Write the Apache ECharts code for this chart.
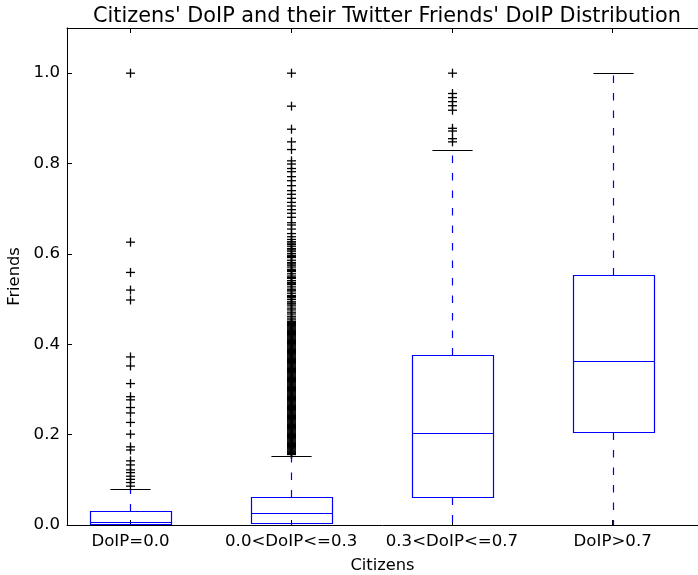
<!DOCTYPE html>
<html><head><meta charset="utf-8">
<script src="https://cdn.jsdelivr.net/npm/echarts@6/dist/echarts.min.js"></script>
<style>html,body{margin:0;padding:0;background:#fff}#c{width:698px;height:575px}</style>
</head><body><div id="c"></div>
<script>
const categories = ['DoIP=0.0', '0.0<DoIP<=0.3', '0.3<DoIP<=0.7', 'DoIP>0.7'];
const positions = [1, 2, 3, 4];
const yTicks = [0, 0.2, 0.4, 0.6, 0.8, 1.0];
// [lowWhisker, q1, median, q3, highWhisker]
const stats1 = [0, 0.002, 0.007, 0.032, 0.080];
const stats2 = [0, 0.004, 0.027, 0.063, 0.153];
const stats3 = [0, 0.063, 0.203, 0.376, 0.831];
const stats4 = [0, 0.205, 0.363, 0.553, 1.0];
// outliers
const fliers1 = [1.0, 0.626, 0.559, 0.520, 0.498, 0.372, 0.352, 0.313, 0.284, 0.277, 0.260, 0.248, 0.227,
  0.201, 0.173, 0.166, 0.142, 0.133, 0.122, 0.116, 0.108, 0.101, 0.094, 0.086];
const fliers2 = [1.0, 0.927, 0.876, 0.848, 0.831, 0.806, 0.799, 0.789, 0.782, 0.771, 0.762, 0.751, 0.740,
  0.732, 0.723, 0.714, 0.706, 0.698, 0.690, 0.681, 0.669, 0.664, 0.655, 0.645, 0.638,
  0.632, 0.627, 0.621, 0.617, 0.612, 0.606, 0.601, 0.597, 0.592, 0.586, 0.581, 0.575, 0.571, 0.566,
  0.561, 0.556, 0.551, 0.546, 0.541, 0.537, 0.532, 0.527, 0.522, 0.518, 0.513, 0.508, 0.503, 0.499,
  0.494, 0.489, 0.485, 0.480, 0.476, 0.471, 0.467, 0.462, 0.458, 0.454, 0.450, 0.446, 0.442, 0.438,
  0.434, 0.430, 0.426, 0.422, 0.418, 0.414, 0.410, 0.406, 0.402, 0.398, 0.394, 0.390, 0.386, 0.382,
  0.378, 0.374, 0.370, 0.366, 0.362, 0.358, 0.354, 0.350, 0.346, 0.342, 0.338, 0.334, 0.330, 0.326,
  0.322, 0.318, 0.314, 0.310, 0.306, 0.302, 0.298, 0.294, 0.290, 0.286, 0.282, 0.278, 0.274, 0.270,
  0.266, 0.262, 0.258, 0.254, 0.250, 0.246, 0.242, 0.238, 0.234, 0.230, 0.226, 0.222, 0.218, 0.214,
  0.210, 0.206, 0.202, 0.198, 0.194, 0.190, 0.186, 0.182, 0.178, 0.174, 0.170, 0.166, 0.162, 0.158,
  0.448, 0.444, 0.440, 0.436, 0.432, 0.428, 0.424, 0.420, 0.416, 0.412, 0.408, 0.404, 0.400, 0.396,
  0.392, 0.388, 0.384, 0.380, 0.376, 0.372, 0.368, 0.364, 0.360, 0.356, 0.352, 0.348, 0.344, 0.340,
  0.336, 0.332, 0.328, 0.324, 0.320, 0.316, 0.312, 0.308, 0.304, 0.300, 0.296, 0.292, 0.288, 0.284,
  0.280, 0.276, 0.272, 0.268, 0.264, 0.260, 0.256, 0.252, 0.248, 0.244, 0.240, 0.236, 0.232, 0.228,
  0.224, 0.220, 0.216, 0.212, 0.208, 0.204, 0.200, 0.196, 0.192, 0.188, 0.184, 0.180, 0.176, 0.172,
  0.168, 0.164, 0.160, 0.156, 0.624, 0.609, 0.594, 0.578, 0.563, 0.548, 0.534, 0.520, 0.506, 0.491];
const fliers3 = [1.0, 0.955, 0.946, 0.937, 0.928, 0.918, 0.878, 0.872, 0.855, 0.848];
const fliers4 = [];

const allStats = [stats1, stats2, stats3, stats4];
const allFliers = [fliers1, fliers2, fliers3, fliers4];
const boxData = allStats.map((s, i) => [positions[i]].concat(s));
const flierData = [];
allFliers.forEach((arr, i) => arr.forEach(v => flierData.push([positions[i], v])));

const FONT = 'DejaVu Sans';
const BLUE = '#0000ff';
const snap = v => Math.round(v) + 0.5;

function renderBox(params, api) {
  const x = api.value(0);
  const lo = api.value(1), q1 = api.value(2), med = api.value(3), q3 = api.value(4), hi = api.value(5);
  const half = api.size([0.25, 0])[0];
  const capHalf = api.size([0.125, 0])[0];
  const cx = snap(api.coord([x, 0])[0]);
  const Y = v => snap(api.coord([x, v])[1]);
  const l = snap(cx - half), r = snap(cx + half);
  const solid = {stroke: BLUE, lineWidth: 1.2, fill: null};
  const dashed = {stroke: BLUE, lineWidth: 1.2, lineDash: [7.5, 10]};
  const cap = {stroke: '#000', lineWidth: 1.2};
  return {
    type: 'group',
    children: [
      {type: 'line', shape: {x1: cx, y1: Y(q3), x2: cx, y2: Y(hi)}, style: dashed},
      {type: 'line', shape: {x1: cx, y1: Y(q1), x2: cx, y2: Y(lo)}, style: dashed},
      {type: 'line', shape: {x1: cx - capHalf, y1: Y(hi), x2: cx + capHalf, y2: Y(hi)}, style: cap},
      {type: 'line', shape: {x1: cx - capHalf, y1: Y(lo), x2: cx + capHalf, y2: Y(lo)}, style: cap},
      {type: 'rect', shape: {x: l, y: Y(q3), width: r - l, height: Y(q1) - Y(q3)}, style: solid},
      {type: 'line', shape: {x1: l, y1: Y(med), x2: r, y2: Y(med)}, style: solid}
    ]
  };
}

function renderFlier(params, api) {
  const p = api.coord([api.value(0), api.value(1)]);
  const cx = snap(p[0]), cy = p[1];
  const s = 4.5;
  const st = {stroke: '#000', lineWidth: 1.3};
  return {
    type: 'group',
    children: [
      {type: 'line', shape: {x1: cx - s, y1: cy, x2: cx + s, y2: cy}, style: st},
      {type: 'line', shape: {x1: cx, y1: cy - s, x2: cx, y2: cy + s}, style: st}
    ]
  };
}

const axisLineStyle = {show: true, lineStyle: {color: '#000', width: 1}};
const chart = echarts.init(document.getElementById('c'), null, {renderer: 'canvas'});
chart.setOption({
  animation: false,
  backgroundColor: '#fff',
  textStyle: {fontFamily: FONT},
  title: {
    text: "Citizens' DoIP and their Twitter Friends' DoIP Distribution",
    left: 382, top: 1, textAlign: 'center',
    textStyle: {fontFamily: FONT, fontSize: 20.8, fontWeight: 'normal', color: '#000'}
  },
  grid: {left: 67, top: 28, right: 0, bottom: 50, containLabel: false, outerBoundsMode: 'none'},
  xAxis: [{
    type: 'value', min: 0.605, max: 4.531, position: 'bottom',
    name: 'Citizens', nameLocation: 'middle', nameGap: 33,
    nameTextStyle: {fontFamily: FONT, fontSize: 16.3, color: '#000'},
    axisLine: axisLineStyle,
    axisTick: {show: true, inside: true, length: 5, customValues: positions, lineStyle: {color: '#000'}},
    axisLabel: {show: true, customValues: positions, margin: 8, fontFamily: FONT, fontSize: 16.6, color: '#000',
      formatter: v => categories[Math.round(v) - 1] || ''},
    splitLine: {show: false}
  }, {
    type: 'value', min: 0.605, max: 4.531, position: 'top',
    axisLine: axisLineStyle,
    axisTick: {show: true, inside: true, length: 5, customValues: positions, lineStyle: {color: '#000'}},
    axisLabel: {show: false},
    splitLine: {show: false}
  }],
  yAxis: [{
    type: 'value', min: 0, max: 1.1, interval: 0.2,
    name: 'Friends', nameLocation: 'middle', nameGap: 34, nameRotate: 90,
    nameTextStyle: {fontFamily: FONT, fontSize: 16.3, color: '#000'},
    axisLine: axisLineStyle,
    axisTick: {show: true, inside: true, length: 5, customValues: yTicks, lineStyle: {color: '#000'}},
    axisLabel: {show: true, customValues: yTicks, margin: 7, fontFamily: FONT, fontSize: 16.6, color: '#000',
      formatter: v => v.toFixed(1)},
    splitLine: {show: false}
  }],
  series: [{
    type: 'custom', renderItem: renderFlier, data: flierData,
    encode: {x: 0, y: 1}, clip: false, silent: true, z: 2
  }, {
    type: 'custom', renderItem: renderBox, data: boxData,
    encode: {x: 0, y: [1, 2, 3, 4, 5]}, clip: false, silent: true, z: 3
  }]
});
</script>
</body></html>
